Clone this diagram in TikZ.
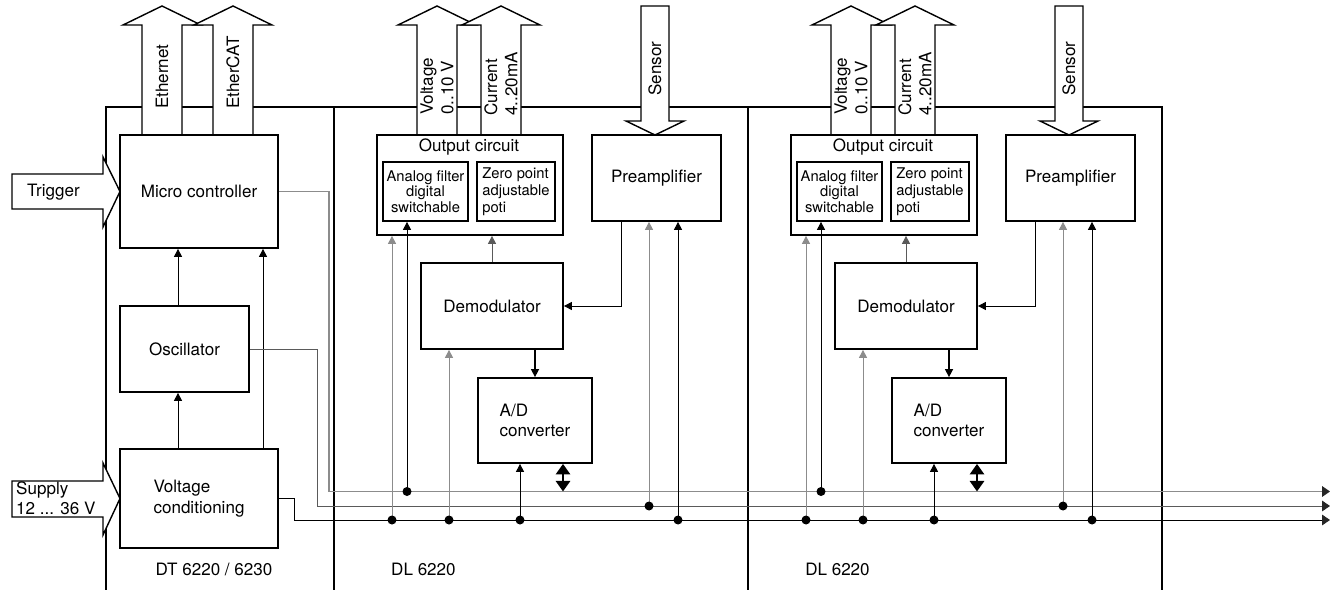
\documentclass[tikz,border=0pt]{standalone}
\usepackage{fontspec}
\setsansfont{TeX Gyre Heros}
\usepackage{tikz}
\usetikzlibrary{arrows.meta,calc,positioning}
\definecolor{LineGray}{HTML}{8C8C8C}
\definecolor{DarkGray}{HTML}{5A5A5A}

\begin{document}
\begin{tikzpicture}[x=.2mm,y=-.2mm,line width=.55pt,font=\sffamily\fontsize{9.7}{11.6}\selectfont,
 every node/.style={inner sep=1pt},>={Triangle[length=4.5pt,width=4.5pt]},
 blk/.style={draw,line width=1pt,fill=white},
 fat/.style={draw,line width=.8pt,fill=white,line join=miter},
 smla/.style={font=\sffamily\fontsize{8.4}{7.8}\selectfont},
 smlb/.style={font=\sffamily\fontsize{8.4}{9.8}\selectfont},
 gl/.style={draw=LineGray},
 dg/.style={draw=DarkGray},
 bus/.style={-{Triangle[length=4.5pt,width=6pt,color=black!85]}}]
\useasboundingbox (0,0) rectangle (1330,590);
% housings
\draw[line width=1pt] (106,590) -- (106,107) -- (1162,107) -- (1162,590);
\foreach \x in {334,748}{\draw[line width=1pt] (\x,107) -- (\x,590);}
\coordinate (bt) at (1330,491.5);
\coordinate (bm) at (1330,506);
\coordinate (bb) at (1330,520);

% DT 6220 / 6230
\foreach \c in {162,233}{\draw[fat] (\c-20,135) -- (\c-20,25) -- (\c-39,25) -- (\c,6) -- (\c+39,25) -- (\c+20,25) -- (\c+20,135) -- cycle;}
\node[rotate=90,anchor=west] (eth) at (162,111) {Ethernet};
\node[rotate=90,anchor=west] (ecat) at (233,111) {EtherCAT};
\draw[fat] (12,174) -- (103,174) -- (103,157) -- (120,191.5) -- (103,227) -- (103,209) -- (12,209) -- cycle;
\draw[fat] (12,481) -- (103,481) -- (103,463) -- (120,498.5) -- (103,535) -- (103,517) -- (12,517) -- cycle;
\node[anchor=west] (trig) at (25,192) {Trigger};
\node[anchor=west,align=left] (sup) at (14,498) {Supply\\12 ... 36 V};
\node[blk,minimum width=31.6mm,minimum height=22.6mm] (mc) at (199,191.5) {Micro controller};
\node[blk,minimum width=25.8mm,minimum height=17.2mm] (osc) at (184.5,349) {Oscillator};
\node[blk,minimum width=31.6mm,minimum height=19.8mm,align=left] (vc) at (199,498.5) {Voltage\\conditioning};
\node (dt) at (214,569) {DT 6220 / 6230};
\coordinate (pa) at (178,0); \coordinate (pb) at (263,0);
\draw[->] (pa |- vc.north) -- (pa |- osc.south);
\draw[->] (pa |- osc.north) -- (pa |- mc.south);
\draw[->] (pb |- vc.north) -- (pb |- mc.south);
\draw[gl,bus,line width=.75pt] (mc.east) -| (329,491.5) -- (bt);
\draw[dg,bus] (osc.east) -| (317,506) -- (bm);
\draw[bus] (vc.east) -| (294,520) -- (bb);

% DL 6220 (twice)
\foreach \s/\dx in {1/0,2/414}{
\begin{scope}[shift={(\dx,0)}]
 \foreach \c in {437,501}{\draw[fat] (\c-20,135) -- (\c-20,25) -- (\c-39,25) -- (\c,6) -- (\c+39,25) -- (\c+20,25) -- (\c+20,135) -- cycle;}
 \node[rotate=90,anchor=west,align=left] (uout\s) at (437,117) {Voltage\\0..10 V};
 \node[rotate=90,anchor=west,align=left] (iout\s) at (501,118) {Current\\4..20mA};
 \draw[fat] (641,6) -- (669,6) -- (669,121) -- (684,121) -- (655,135) -- (626,121) -- (641,121) -- cycle;
 \node[rotate=90,anchor=west] (sens\s) at (655,98) {Sensor};
 \node[blk,minimum width=37.2mm,minimum height=20mm] (oc\s) at (470,185) {};
 \node (ocl\s) at (469,147) {Output circuit};
 \node[blk,smla,minimum width=17mm,minimum height=11.8mm,align=center] (af\s) at (425.5,191.5) {Analog filter\\digital\\switchable};
 \node[blk,smlb,minimum width=15.6mm,minimum height=11.8mm,align=left] (zp\s) at (516,191.5) {Zero point\\adjustable\\poti};
 \node[blk,minimum width=25.8mm,minimum height=17.2mm] (pre\s) at (656.5,178) {Preamplifier};
 \node[blk,minimum width=28.4mm,minimum height=17.2mm] (dem\s) at (492,306) {Demodulator};
 \node[blk,minimum width=22.8mm,minimum height=17mm,align=left] (adc\s) at (535,420.5) {A/D\\converter};
 \node[anchor=west] (dl\s) at (389,569) {DL 6220};
 \coordinate (qa\s) at (392,0); \coordinate (qb\s) at (407,0); \coordinate (qc\s) at (449,0);
 \coordinate (qd\s) at (520,0); \coordinate (qe\s) at (563,0); \coordinate (qf\s) at (621,0);
 \coordinate (qg\s) at (649,0); \coordinate (qh\s) at (678,0);
 \draw[gl,->] (qa\s |- bb) -- (qa\s |- oc\s.south);
 \draw[->] (qb\s |- bt) -- (qb\s |- af\s.south);
 \draw[gl,->] (qc\s |- bb) -- (qc\s |- dem\s.south);
 \draw[->] (qd\s |- bb) -- (qd\s |- adc\s.south);
 \draw[gl,->] (qg\s |- bm) -- (qg\s |- pre\s.south);
 \draw[->] (qh\s |- bb) -- (qh\s |- pre\s.south);
 \draw[->] (qf\s |- pre\s.south) |- (dem\s.east);
 \draw[dg,->] (dem\s.north) -- (dem\s.north |- oc\s.south);
 \draw[->,line width=.8pt] (adc\s.north |- dem\s.south) -- (adc\s.north);
 \draw[line width=1.5pt,{Triangle[length=6pt,width=8pt]}-{Triangle[length=6pt,width=8pt]}] (qe\s |- bt) -- (qe\s |- adc\s.south);
 \foreach \p in {qa,qc,qd,qh}{\fill (\p\s |- bb) circle[radius=.9mm];}
 \fill (qb\s |- bt) circle[radius=.9mm];
 \fill (qg\s |- bm) circle[radius=.9mm];
\end{scope}
}
\end{tikzpicture}
\end{document}
